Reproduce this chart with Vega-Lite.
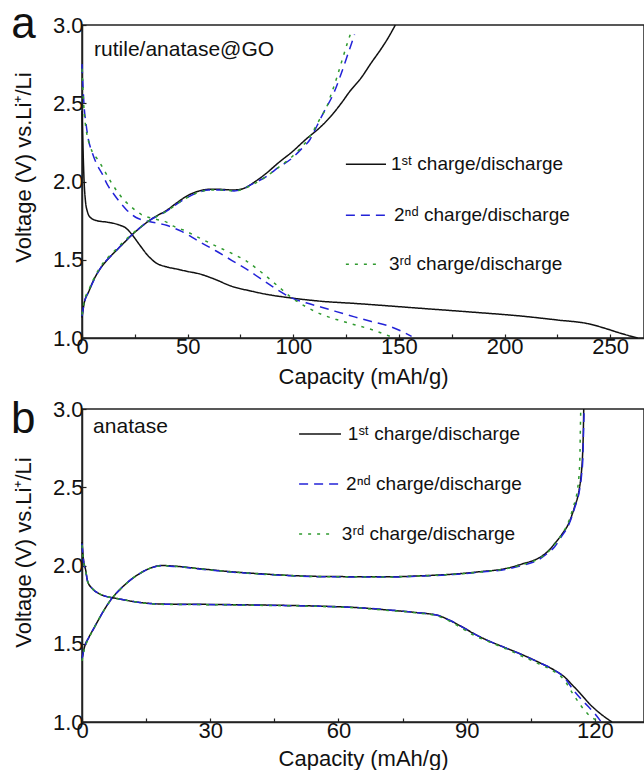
{
  "$schema": "https://vega.github.io/schema/vega-lite/v6.json",
  "background": "white",
  "padding": {"left": 10, "top": 2, "right": 0, "bottom": 0},
  "bounds": "flush",
  "spacing": 71,
  "config": {
    "font": "Liberation Sans",
    "view": {"stroke": "#222222", "strokeWidth": 1.5},
    "axis": {
      "domainColor": "#222222", "domainWidth": 1.5,
      "tickColor": "#222222", "tickWidth": 1.2, "tickSize": -4,
      "labelFontSize": 22, "labelColor": "#111111", "labelFont": "Liberation Sans",
      "titleFontSize": 22, "titleFontWeight": "normal", "titleColor": "#111111", "titleFont": "Liberation Sans",
      "grid": false, "labelFlush": false, "labelOverlap": false
    }
  },
  "datasets": {
    "curves": [
      {"p":"a","s":"1","b":"d","cap":0,"v":2.45},{"p":"a","s":"1","b":"d","cap":0.5,"v":2.2},{"p":"a","s":"1","b":"d","cap":1,"v":2.0},{"p":"a","s":"1","b":"d","cap":1.6,"v":1.88},{"p":"a","s":"1","b":"d","cap":2.5,"v":1.81},{"p":"a","s":"1","b":"d","cap":4,"v":1.77},{"p":"a","s":"1","b":"d","cap":7,"v":1.75},{"p":"a","s":"1","b":"d","cap":12,"v":1.74},{"p":"a","s":"1","b":"d","cap":17,"v":1.725},{"p":"a","s":"1","b":"d","cap":21,"v":1.70},{"p":"a","s":"1","b":"d","cap":24,"v":1.655},{"p":"a","s":"1","b":"d","cap":27,"v":1.60},{"p":"a","s":"1","b":"d","cap":31,"v":1.53},{"p":"a","s":"1","b":"d","cap":35,"v":1.48},{"p":"a","s":"1","b":"d","cap":40,"v":1.455},{"p":"a","s":"1","b":"d","cap":45,"v":1.44},{"p":"a","s":"1","b":"d","cap":50,"v":1.425},{"p":"a","s":"1","b":"d","cap":55.5,"v":1.41},{"p":"a","s":"1","b":"d","cap":62,"v":1.38},{"p":"a","s":"1","b":"d","cap":71,"v":1.33},{"p":"a","s":"1","b":"d","cap":80,"v":1.30},{"p":"a","s":"1","b":"d","cap":87,"v":1.28},{"p":"a","s":"1","b":"d","cap":99.5,"v":1.255},{"p":"a","s":"1","b":"d","cap":113,"v":1.235},{"p":"a","s":"1","b":"d","cap":130,"v":1.22},{"p":"a","s":"1","b":"d","cap":160,"v":1.19},{"p":"a","s":"1","b":"d","cap":185,"v":1.165},{"p":"a","s":"1","b":"d","cap":208,"v":1.14},{"p":"a","s":"1","b":"d","cap":225,"v":1.115},{"p":"a","s":"1","b":"d","cap":240,"v":1.09},{"p":"a","s":"1","b":"d","cap":248,"v":1.06},{"p":"a","s":"1","b":"d","cap":255,"v":1.03},{"p":"a","s":"1","b":"d","cap":263,"v":1.0},
      {"p":"a","s":"1","b":"c","cap":0,"v":1.13},{"p":"a","s":"1","b":"c","cap":1,"v":1.22},{"p":"a","s":"1","b":"c","cap":3.3,"v":1.30},{"p":"a","s":"1","b":"c","cap":5.5,"v":1.37},{"p":"a","s":"1","b":"c","cap":8,"v":1.43},{"p":"a","s":"1","b":"c","cap":12,"v":1.50},{"p":"a","s":"1","b":"c","cap":16,"v":1.556},{"p":"a","s":"1","b":"c","cap":20,"v":1.61},{"p":"a","s":"1","b":"c","cap":23.7,"v":1.66},{"p":"a","s":"1","b":"c","cap":28,"v":1.71},{"p":"a","s":"1","b":"c","cap":31.8,"v":1.75},{"p":"a","s":"1","b":"c","cap":36,"v":1.785},{"p":"a","s":"1","b":"c","cap":40,"v":1.815},{"p":"a","s":"1","b":"c","cap":44.5,"v":1.86},{"p":"a","s":"1","b":"c","cap":50,"v":1.91},{"p":"a","s":"1","b":"c","cap":55.5,"v":1.94},{"p":"a","s":"1","b":"c","cap":60,"v":1.95},{"p":"a","s":"1","b":"c","cap":65,"v":1.95},{"p":"a","s":"1","b":"c","cap":71,"v":1.946},{"p":"a","s":"1","b":"c","cap":75,"v":1.95},{"p":"a","s":"1","b":"c","cap":78,"v":1.965},{"p":"a","s":"1","b":"c","cap":82,"v":2.0},{"p":"a","s":"1","b":"c","cap":87,"v":2.05},{"p":"a","s":"1","b":"c","cap":93,"v":2.12},{"p":"a","s":"1","b":"c","cap":99.5,"v":2.19},{"p":"a","s":"1","b":"c","cap":106,"v":2.27},{"p":"a","s":"1","b":"c","cap":113,"v":2.35},{"p":"a","s":"1","b":"c","cap":118,"v":2.42},{"p":"a","s":"1","b":"c","cap":122.7,"v":2.50},{"p":"a","s":"1","b":"c","cap":127,"v":2.58},{"p":"a","s":"1","b":"c","cap":132,"v":2.66},{"p":"a","s":"1","b":"c","cap":137,"v":2.76},{"p":"a","s":"1","b":"c","cap":141.7,"v":2.85},{"p":"a","s":"1","b":"c","cap":145,"v":2.92},{"p":"a","s":"1","b":"c","cap":148.3,"v":3.0},
      {"p":"a","s":"2","b":"d","cap":0,"v":2.75},{"p":"a","s":"2","b":"d","cap":0.5,"v":2.6},{"p":"a","s":"2","b":"d","cap":1,"v":2.48},{"p":"a","s":"2","b":"d","cap":1.9,"v":2.37},{"p":"a","s":"2","b":"d","cap":3,"v":2.27},{"p":"a","s":"2","b":"d","cap":4.7,"v":2.19},{"p":"a","s":"2","b":"d","cap":7,"v":2.11},{"p":"a","s":"2","b":"d","cap":9.5,"v":2.05},{"p":"a","s":"2","b":"d","cap":12,"v":1.98},{"p":"a","s":"2","b":"d","cap":15,"v":1.92},{"p":"a","s":"2","b":"d","cap":17.5,"v":1.875},{"p":"a","s":"2","b":"d","cap":21,"v":1.82},{"p":"a","s":"2","b":"d","cap":25.6,"v":1.77},{"p":"a","s":"2","b":"d","cap":30,"v":1.75},{"p":"a","s":"2","b":"d","cap":35,"v":1.735},{"p":"a","s":"2","b":"d","cap":40,"v":1.72},{"p":"a","s":"2","b":"d","cap":44,"v":1.70},{"p":"a","s":"2","b":"d","cap":47.4,"v":1.68},{"p":"a","s":"2","b":"d","cap":55,"v":1.62},{"p":"a","s":"2","b":"d","cap":63.5,"v":1.556},{"p":"a","s":"2","b":"d","cap":71,"v":1.495},{"p":"a","s":"2","b":"d","cap":79,"v":1.43},{"p":"a","s":"2","b":"d","cap":90,"v":1.33},{"p":"a","s":"2","b":"d","cap":99.5,"v":1.255},{"p":"a","s":"2","b":"d","cap":106,"v":1.225},{"p":"a","s":"2","b":"d","cap":113,"v":1.198},{"p":"a","s":"2","b":"d","cap":120,"v":1.17},{"p":"a","s":"2","b":"d","cap":129,"v":1.135},{"p":"a","s":"2","b":"d","cap":137,"v":1.105},{"p":"a","s":"2","b":"d","cap":145,"v":1.077},{"p":"a","s":"2","b":"d","cap":151,"v":1.045},{"p":"a","s":"2","b":"d","cap":156,"v":1.01},
      {"p":"a","s":"2","b":"c","cap":0,"v":1.14},{"p":"a","s":"2","b":"c","cap":1,"v":1.22},{"p":"a","s":"2","b":"c","cap":3.3,"v":1.30},{"p":"a","s":"2","b":"c","cap":8,"v":1.43},{"p":"a","s":"2","b":"c","cap":16,"v":1.556},{"p":"a","s":"2","b":"c","cap":23.7,"v":1.66},{"p":"a","s":"2","b":"c","cap":31.8,"v":1.75},{"p":"a","s":"2","b":"c","cap":40,"v":1.81},{"p":"a","s":"2","b":"c","cap":47,"v":1.875},{"p":"a","s":"2","b":"c","cap":55,"v":1.93},{"p":"a","s":"2","b":"c","cap":60,"v":1.945},{"p":"a","s":"2","b":"c","cap":66,"v":1.945},{"p":"a","s":"2","b":"c","cap":72,"v":1.94},{"p":"a","s":"2","b":"c","cap":76,"v":1.95},{"p":"a","s":"2","b":"c","cap":80,"v":1.98},{"p":"a","s":"2","b":"c","cap":87,"v":2.03},{"p":"a","s":"2","b":"c","cap":93,"v":2.09},{"p":"a","s":"2","b":"c","cap":99.5,"v":2.15},{"p":"a","s":"2","b":"c","cap":104,"v":2.21},{"p":"a","s":"2","b":"c","cap":108,"v":2.27},{"p":"a","s":"2","b":"c","cap":111,"v":2.35},{"p":"a","s":"2","b":"c","cap":114.7,"v":2.45},{"p":"a","s":"2","b":"c","cap":119,"v":2.56},{"p":"a","s":"2","b":"c","cap":122.7,"v":2.69},{"p":"a","s":"2","b":"c","cap":126,"v":2.82},{"p":"a","s":"2","b":"c","cap":129,"v":2.94},
      {"p":"a","s":"3","b":"d","cap":0,"v":2.72},{"p":"a","s":"3","b":"d","cap":1,"v":2.45},{"p":"a","s":"3","b":"d","cap":2,"v":2.33},{"p":"a","s":"3","b":"d","cap":4,"v":2.22},{"p":"a","s":"3","b":"d","cap":8,"v":2.13},{"p":"a","s":"3","b":"d","cap":11,"v":2.06},{"p":"a","s":"3","b":"d","cap":14,"v":1.99},{"p":"a","s":"3","b":"d","cap":17,"v":1.93},{"p":"a","s":"3","b":"d","cap":20,"v":1.88},{"p":"a","s":"3","b":"d","cap":24,"v":1.83},{"p":"a","s":"3","b":"d","cap":28,"v":1.79},{"p":"a","s":"3","b":"d","cap":33,"v":1.765},{"p":"a","s":"3","b":"d","cap":40,"v":1.74},{"p":"a","s":"3","b":"d","cap":43,"v":1.716},{"p":"a","s":"3","b":"d","cap":48,"v":1.69},{"p":"a","s":"3","b":"d","cap":55.5,"v":1.64},{"p":"a","s":"3","b":"d","cap":63,"v":1.59},{"p":"a","s":"3","b":"d","cap":71,"v":1.54},{"p":"a","s":"3","b":"d","cap":78,"v":1.49},{"p":"a","s":"3","b":"d","cap":84,"v":1.43},{"p":"a","s":"3","b":"d","cap":92,"v":1.34},{"p":"a","s":"3","b":"d","cap":99.5,"v":1.255},{"p":"a","s":"3","b":"d","cap":106,"v":1.20},{"p":"a","s":"3","b":"d","cap":113,"v":1.153},{"p":"a","s":"3","b":"d","cap":120,"v":1.12},{"p":"a","s":"3","b":"d","cap":129,"v":1.085},{"p":"a","s":"3","b":"d","cap":138,"v":1.05},{"p":"a","s":"3","b":"d","cap":144,"v":1.02},{"p":"a","s":"3","b":"d","cap":148,"v":1.0},
      {"p":"a","s":"3","b":"c","cap":0,"v":1.15},{"p":"a","s":"3","b":"c","cap":1,"v":1.23},{"p":"a","s":"3","b":"c","cap":3.3,"v":1.31},{"p":"a","s":"3","b":"c","cap":8,"v":1.44},{"p":"a","s":"3","b":"c","cap":16,"v":1.565},{"p":"a","s":"3","b":"c","cap":23.7,"v":1.665},{"p":"a","s":"3","b":"c","cap":31.8,"v":1.75},{"p":"a","s":"3","b":"c","cap":40,"v":1.81},{"p":"a","s":"3","b":"c","cap":47,"v":1.875},{"p":"a","s":"3","b":"c","cap":55,"v":1.93},{"p":"a","s":"3","b":"c","cap":60,"v":1.945},{"p":"a","s":"3","b":"c","cap":66,"v":1.945},{"p":"a","s":"3","b":"c","cap":72,"v":1.94},{"p":"a","s":"3","b":"c","cap":76,"v":1.95},{"p":"a","s":"3","b":"c","cap":80,"v":1.975},{"p":"a","s":"3","b":"c","cap":87,"v":2.03},{"p":"a","s":"3","b":"c","cap":93,"v":2.09},{"p":"a","s":"3","b":"c","cap":99.5,"v":2.16},{"p":"a","s":"3","b":"c","cap":104,"v":2.22},{"p":"a","s":"3","b":"c","cap":108,"v":2.29},{"p":"a","s":"3","b":"c","cap":111,"v":2.36},{"p":"a","s":"3","b":"c","cap":113,"v":2.41},{"p":"a","s":"3","b":"c","cap":115.6,"v":2.47},{"p":"a","s":"3","b":"c","cap":118,"v":2.56},{"p":"a","s":"3","b":"c","cap":120.5,"v":2.66},{"p":"a","s":"3","b":"c","cap":123,"v":2.77},{"p":"a","s":"3","b":"c","cap":125.5,"v":2.88},{"p":"a","s":"3","b":"c","cap":127.5,"v":2.96},

      {"p":"b","s":"1","b":"d","cap":0,"v":2.15},{"p":"b","s":"1","b":"d","cap":0.3,"v":2.05},{"p":"b","s":"1","b":"d","cap":0.9,"v":1.965},{"p":"b","s":"1","b":"d","cap":1.3,"v":1.90},{"p":"b","s":"1","b":"d","cap":2.5,"v":1.85},{"p":"b","s":"1","b":"d","cap":4,"v":1.82},{"p":"b","s":"1","b":"d","cap":6,"v":1.80},{"p":"b","s":"1","b":"d","cap":8,"v":1.79},{"p":"b","s":"1","b":"d","cap":12,"v":1.77},{"p":"b","s":"1","b":"d","cap":15.7,"v":1.758},{"p":"b","s":"1","b":"d","cap":20,"v":1.753},{"p":"b","s":"1","b":"d","cap":27.4,"v":1.752},{"p":"b","s":"1","b":"d","cap":40,"v":1.748},{"p":"b","s":"1","b":"d","cap":56,"v":1.74},{"p":"b","s":"1","b":"d","cap":65,"v":1.73},{"p":"b","s":"1","b":"d","cap":71.7,"v":1.715},{"p":"b","s":"1","b":"d","cap":78,"v":1.70},{"p":"b","s":"1","b":"d","cap":83.4,"v":1.68},{"p":"b","s":"1","b":"d","cap":86,"v":1.65},{"p":"b","s":"1","b":"d","cap":88.8,"v":1.61},{"p":"b","s":"1","b":"d","cap":92,"v":1.56},{"p":"b","s":"1","b":"d","cap":95,"v":1.52},{"p":"b","s":"1","b":"d","cap":99,"v":1.475},{"p":"b","s":"1","b":"d","cap":103,"v":1.43},{"p":"b","s":"1","b":"d","cap":107,"v":1.38},{"p":"b","s":"1","b":"d","cap":110.6,"v":1.33},{"p":"b","s":"1","b":"d","cap":112.8,"v":1.29},{"p":"b","s":"1","b":"d","cap":114.6,"v":1.24},{"p":"b","s":"1","b":"d","cap":116.5,"v":1.185},{"p":"b","s":"1","b":"d","cap":118.6,"v":1.12},{"p":"b","s":"1","b":"d","cap":121,"v":1.06},{"p":"b","s":"1","b":"d","cap":124,"v":1.0},
      {"p":"b","s":"1","b":"c","cap":0,"v":1.40},{"p":"b","s":"1","b":"c","cap":0.5,"v":1.47},{"p":"b","s":"1","b":"c","cap":1.6,"v":1.54},{"p":"b","s":"1","b":"c","cap":2.8,"v":1.60},{"p":"b","s":"1","b":"c","cap":4,"v":1.66},{"p":"b","s":"1","b":"c","cap":5.5,"v":1.73},{"p":"b","s":"1","b":"c","cap":7,"v":1.79},{"p":"b","s":"1","b":"c","cap":9,"v":1.85},{"p":"b","s":"1","b":"c","cap":11,"v":1.90},{"p":"b","s":"1","b":"c","cap":13,"v":1.94},{"p":"b","s":"1","b":"c","cap":15.7,"v":1.98},{"p":"b","s":"1","b":"c","cap":18.8,"v":2.0},{"p":"b","s":"1","b":"c","cap":22,"v":1.995},{"p":"b","s":"1","b":"c","cap":27.4,"v":1.98},{"p":"b","s":"1","b":"c","cap":35,"v":1.96},{"p":"b","s":"1","b":"c","cap":43,"v":1.945},{"p":"b","s":"1","b":"c","cap":56,"v":1.93},{"p":"b","s":"1","b":"c","cap":71.7,"v":1.928},{"p":"b","s":"1","b":"c","cap":80,"v":1.935},{"p":"b","s":"1","b":"c","cap":87,"v":1.945},{"p":"b","s":"1","b":"c","cap":93,"v":1.96},{"p":"b","s":"1","b":"c","cap":99,"v":1.98},{"p":"b","s":"1","b":"c","cap":103,"v":2.01},{"p":"b","s":"1","b":"c","cap":107,"v":2.05},{"p":"b","s":"1","b":"c","cap":109,"v":2.09},{"p":"b","s":"1","b":"c","cap":110.6,"v":2.14},{"p":"b","s":"1","b":"c","cap":112.3,"v":2.20},{"p":"b","s":"1","b":"c","cap":113.9,"v":2.27},{"p":"b","s":"1","b":"c","cap":115.2,"v":2.37},{"p":"b","s":"1","b":"c","cap":116.3,"v":2.48},{"p":"b","s":"1","b":"c","cap":116.8,"v":2.58},{"p":"b","s":"1","b":"c","cap":117.1,"v":2.69},{"p":"b","s":"1","b":"c","cap":117.3,"v":2.85},{"p":"b","s":"1","b":"c","cap":117.4,"v":3.0},
      {"p":"b","s":"2","b":"d","cap":0,"v":2.14},{"p":"b","s":"2","b":"d","cap":0.3,"v":2.04},{"p":"b","s":"2","b":"d","cap":0.9,"v":1.96},{"p":"b","s":"2","b":"d","cap":1.3,"v":1.90},{"p":"b","s":"2","b":"d","cap":2.5,"v":1.85},{"p":"b","s":"2","b":"d","cap":4,"v":1.82},{"p":"b","s":"2","b":"d","cap":6,"v":1.80},{"p":"b","s":"2","b":"d","cap":8,"v":1.79},{"p":"b","s":"2","b":"d","cap":12,"v":1.77},{"p":"b","s":"2","b":"d","cap":15.7,"v":1.757},{"p":"b","s":"2","b":"d","cap":20,"v":1.752},{"p":"b","s":"2","b":"d","cap":27.4,"v":1.751},{"p":"b","s":"2","b":"d","cap":40,"v":1.747},{"p":"b","s":"2","b":"d","cap":56,"v":1.739},{"p":"b","s":"2","b":"d","cap":65,"v":1.73},{"p":"b","s":"2","b":"d","cap":71.7,"v":1.716},{"p":"b","s":"2","b":"d","cap":78,"v":1.70},{"p":"b","s":"2","b":"d","cap":83.4,"v":1.68},{"p":"b","s":"2","b":"d","cap":86,"v":1.65},{"p":"b","s":"2","b":"d","cap":88.8,"v":1.61},{"p":"b","s":"2","b":"d","cap":92,"v":1.56},{"p":"b","s":"2","b":"d","cap":95,"v":1.52},{"p":"b","s":"2","b":"d","cap":99,"v":1.475},{"p":"b","s":"2","b":"d","cap":103,"v":1.43},{"p":"b","s":"2","b":"d","cap":107,"v":1.38},{"p":"b","s":"2","b":"d","cap":110.6,"v":1.33},{"p":"b","s":"2","b":"d","cap":112.8,"v":1.285},{"p":"b","s":"2","b":"d","cap":115.1,"v":1.20},{"p":"b","s":"2","b":"d","cap":118.4,"v":1.10},{"p":"b","s":"2","b":"d","cap":119.8,"v":1.06},{"p":"b","s":"2","b":"d","cap":121.5,"v":1.0},
      {"p":"b","s":"2","b":"c","cap":0,"v":1.40},{"p":"b","s":"2","b":"c","cap":0.5,"v":1.47},{"p":"b","s":"2","b":"c","cap":1.6,"v":1.54},{"p":"b","s":"2","b":"c","cap":2.8,"v":1.60},{"p":"b","s":"2","b":"c","cap":4,"v":1.66},{"p":"b","s":"2","b":"c","cap":5.5,"v":1.73},{"p":"b","s":"2","b":"c","cap":7,"v":1.79},{"p":"b","s":"2","b":"c","cap":9,"v":1.85},{"p":"b","s":"2","b":"c","cap":11,"v":1.90},{"p":"b","s":"2","b":"c","cap":13,"v":1.94},{"p":"b","s":"2","b":"c","cap":15.7,"v":1.98},{"p":"b","s":"2","b":"c","cap":18.8,"v":1.998},{"p":"b","s":"2","b":"c","cap":22,"v":1.993},{"p":"b","s":"2","b":"c","cap":27.4,"v":1.978},{"p":"b","s":"2","b":"c","cap":35,"v":1.958},{"p":"b","s":"2","b":"c","cap":43,"v":1.943},{"p":"b","s":"2","b":"c","cap":56,"v":1.928},{"p":"b","s":"2","b":"c","cap":71.7,"v":1.926},{"p":"b","s":"2","b":"c","cap":80,"v":1.933},{"p":"b","s":"2","b":"c","cap":87,"v":1.943},{"p":"b","s":"2","b":"c","cap":93,"v":1.957},{"p":"b","s":"2","b":"c","cap":99,"v":1.975},{"p":"b","s":"2","b":"c","cap":103,"v":2.0},{"p":"b","s":"2","b":"c","cap":107,"v":2.04},{"p":"b","s":"2","b":"c","cap":109,"v":2.08},{"p":"b","s":"2","b":"c","cap":110.6,"v":2.12},{"p":"b","s":"2","b":"c","cap":112.3,"v":2.19},{"p":"b","s":"2","b":"c","cap":113.9,"v":2.26},{"p":"b","s":"2","b":"c","cap":115.3,"v":2.37},{"p":"b","s":"2","b":"c","cap":116.4,"v":2.48},{"p":"b","s":"2","b":"c","cap":116.9,"v":2.58},{"p":"b","s":"2","b":"c","cap":117.2,"v":2.69},{"p":"b","s":"2","b":"c","cap":117.35,"v":2.85},{"p":"b","s":"2","b":"c","cap":117.5,"v":3.0},
      {"p":"b","s":"3","b":"d","cap":0,"v":2.13},{"p":"b","s":"3","b":"d","cap":0.3,"v":2.04},{"p":"b","s":"3","b":"d","cap":0.9,"v":1.96},{"p":"b","s":"3","b":"d","cap":1.3,"v":1.90},{"p":"b","s":"3","b":"d","cap":2.5,"v":1.85},{"p":"b","s":"3","b":"d","cap":4,"v":1.82},{"p":"b","s":"3","b":"d","cap":6,"v":1.80},{"p":"b","s":"3","b":"d","cap":8,"v":1.79},{"p":"b","s":"3","b":"d","cap":12,"v":1.77},{"p":"b","s":"3","b":"d","cap":15.7,"v":1.756},{"p":"b","s":"3","b":"d","cap":20,"v":1.751},{"p":"b","s":"3","b":"d","cap":27.4,"v":1.75},{"p":"b","s":"3","b":"d","cap":40,"v":1.746},{"p":"b","s":"3","b":"d","cap":56,"v":1.738},{"p":"b","s":"3","b":"d","cap":65,"v":1.728},{"p":"b","s":"3","b":"d","cap":71.7,"v":1.713},{"p":"b","s":"3","b":"d","cap":78,"v":1.698},{"p":"b","s":"3","b":"d","cap":83.4,"v":1.675},{"p":"b","s":"3","b":"d","cap":86,"v":1.645},{"p":"b","s":"3","b":"d","cap":88.8,"v":1.60},{"p":"b","s":"3","b":"d","cap":92,"v":1.55},{"p":"b","s":"3","b":"d","cap":95,"v":1.515},{"p":"b","s":"3","b":"d","cap":99,"v":1.47},{"p":"b","s":"3","b":"d","cap":103,"v":1.42},{"p":"b","s":"3","b":"d","cap":107,"v":1.37},{"p":"b","s":"3","b":"d","cap":110.6,"v":1.32},{"p":"b","s":"3","b":"d","cap":112.8,"v":1.27},{"p":"b","s":"3","b":"d","cap":115.1,"v":1.17},{"p":"b","s":"3","b":"d","cap":118.4,"v":1.05},{"p":"b","s":"3","b":"d","cap":121,"v":1.0},
      {"p":"b","s":"3","b":"c","cap":0,"v":1.39},{"p":"b","s":"3","b":"c","cap":0.5,"v":1.46},{"p":"b","s":"3","b":"c","cap":1.6,"v":1.535},{"p":"b","s":"3","b":"c","cap":2.8,"v":1.60},{"p":"b","s":"3","b":"c","cap":4,"v":1.66},{"p":"b","s":"3","b":"c","cap":5.5,"v":1.73},{"p":"b","s":"3","b":"c","cap":7,"v":1.79},{"p":"b","s":"3","b":"c","cap":9,"v":1.85},{"p":"b","s":"3","b":"c","cap":11,"v":1.90},{"p":"b","s":"3","b":"c","cap":13,"v":1.94},{"p":"b","s":"3","b":"c","cap":15.7,"v":1.98},{"p":"b","s":"3","b":"c","cap":18.8,"v":1.998},{"p":"b","s":"3","b":"c","cap":22,"v":1.994},{"p":"b","s":"3","b":"c","cap":27.4,"v":1.979},{"p":"b","s":"3","b":"c","cap":35,"v":1.959},{"p":"b","s":"3","b":"c","cap":43,"v":1.944},{"p":"b","s":"3","b":"c","cap":56,"v":1.929},{"p":"b","s":"3","b":"c","cap":71.7,"v":1.927},{"p":"b","s":"3","b":"c","cap":80,"v":1.934},{"p":"b","s":"3","b":"c","cap":87,"v":1.944},{"p":"b","s":"3","b":"c","cap":93,"v":1.958},{"p":"b","s":"3","b":"c","cap":99,"v":1.978},{"p":"b","s":"3","b":"c","cap":103,"v":2.005},{"p":"b","s":"3","b":"c","cap":107,"v":2.045},{"p":"b","s":"3","b":"c","cap":109,"v":2.085},{"p":"b","s":"3","b":"c","cap":110.6,"v":2.135},{"p":"b","s":"3","b":"c","cap":112.3,"v":2.20},{"p":"b","s":"3","b":"c","cap":113.7,"v":2.27},{"p":"b","s":"3","b":"c","cap":114.9,"v":2.37},{"p":"b","s":"3","b":"c","cap":115.9,"v":2.48},{"p":"b","s":"3","b":"c","cap":116.3,"v":2.58},{"p":"b","s":"3","b":"c","cap":116.5,"v":2.69},{"p":"b","s":"3","b":"c","cap":116.6,"v":2.85},{"p":"b","s":"3","b":"c","cap":116.7,"v":3.0}
    ],
    "legend": [
      {"p":"a","s":"1","cap":124.9,"cap2":143.9,"v":2.11,"tx":146.2,"label":"1ˢᵗ charge/discharge"},
      {"p":"a","s":"2","cap":124.9,"cap2":144.8,"v":1.785,"tx":147.7,"label":"2ⁿᵈ charge/discharge"},
      {"p":"a","s":"3","cap":124.9,"cap2":140.6,"v":1.472,"tx":145.3,"label":"3ʳᵈ charge/discharge"},
      {"p":"b","s":"1","cap":50.8,"cap2":60.6,"v":2.84,"tx":62.2,"label":"1ˢᵗ charge/discharge"},
      {"p":"b","s":"2","cap":50.8,"cap2":60.1,"v":2.521,"tx":61.8,"label":"2ⁿᵈ charge/discharge"},
      {"p":"b","s":"3","cap":50.8,"cap2":58.7,"v":2.201,"tx":60.8,"label":"3ʳᵈ charge/discharge"}
    ],
    "notes": [
      {"p":"a","cap":5.7,"v":2.84,"label":"rutile/anatase@GO"},
      {"p":"b","cap":2.6,"v":2.885,"label":"anatase"}
    ],
    "tags": [
      {"p":"a","cap":-33.5,"v":2.917,"label":"a"},
      {"p":"b","cap":-16.6,"v":2.847,"label":"b"}
    ]
  },
  "vconcat": [
    {
      "width": 562, "height": 313,
      "layer": [
        {
          "data": {"name": "curves"},
          "transform": [{"filter": "datum.p == 'a'"}],
          "mark": {"type": "line", "strokeWidth": 1.5, "interpolate": "monotone"},
          "encoding": {
            "x": {"field": "cap", "type": "quantitative", "title": "Capacity (mAh/g)",
                  "scale": {"domain": [0, 266], "nice": false, "zero": false},
                  "axis": {"values": [0,25,50,75,100,125,150,175,200,225,250], "labelExpr": "datum.value % 50 == 0 ? datum.label : ''", "labelPadding": 2, "titlePadding": 9}},
            "y": {"field": "v", "type": "quantitative", "title": "Voltage (V) vs.Li⁺/Li",
                  "scale": {"domain": [1, 3], "nice": false, "zero": false},
                  "axis": {"values": [1,1.25,1.5,1.75,2,2.25,2.5,2.75,3], "labelExpr": "(datum.value * 2) % 1 == 0 ? format(datum.value, '.1f') : ''", "labelPadding": 3, "titlePadding": 17, "titleY": 142}},
            "color": {"field": "s", "type": "nominal", "legend": null, "scale": {"domain": ["1","2","3"], "range": ["#111111","#2323d8","#2f9a2f"]}},
            "strokeDash": {"field": "s", "type": "nominal", "legend": null, "scale": {"domain": ["1","2","3"], "range": [[1,0],[9,6],[3,6]]}},
            "detail": {"field": "b", "type": "nominal"}
          }
        },
        {
          "data": {"name": "legend"},
          "transform": [{"filter": "datum.p == 'a'"}],
          "mark": {"type": "rule", "strokeWidth": 1.5},
          "encoding": {
            "x": {"field": "cap", "type": "quantitative", "title": "Capacity (mAh/g)"},
            "x2": {"field": "cap2"},
            "y": {"field": "v", "type": "quantitative", "title": "Voltage (V) vs.Li⁺/Li"},
            "color": {"field": "s", "type": "nominal", "legend": null},
            "strokeDash": {"field": "s", "type": "nominal", "legend": null}
          }
        },
        {
          "data": {"name": "legend"},
          "transform": [{"filter": "datum.p == 'a'"}],
          "mark": {"type": "text", "align": "left", "baseline": "middle", "fontSize": 19, "color": "#111111", "font": "Liberation Sans"},
          "encoding": {
            "x": {"field": "tx", "type": "quantitative", "title": "Capacity (mAh/g)"},
            "y": {"field": "v", "type": "quantitative", "title": "Voltage (V) vs.Li⁺/Li"},
            "text": {"field": "label"}
          }
        },
        {
          "data": {"name": "notes"},
          "transform": [{"filter": "datum.p == 'a'"}],
          "mark": {"type": "text", "align": "left", "baseline": "middle", "fontSize": 21, "color": "#111111", "font": "Liberation Sans"},
          "encoding": {
            "x": {"field": "cap", "type": "quantitative", "title": "Capacity (mAh/g)"},
            "y": {"field": "v", "type": "quantitative", "title": "Voltage (V) vs.Li⁺/Li"},
            "text": {"field": "label"}
          }
        },
        {
          "data": {"name": "tags"},
          "transform": [{"filter": "datum.p == 'a'"}],
          "mark": {"type": "text", "align": "left", "baseline": "alphabetic", "fontSize": 44, "color": "#111111", "font": "Liberation Sans"},
          "encoding": {
            "x": {"field": "cap", "type": "quantitative", "title": "Capacity (mAh/g)"},
            "y": {"field": "v", "type": "quantitative", "title": "Voltage (V) vs.Li⁺/Li"},
            "text": {"field": "label"}
          }
        }
      ]
    },
    {
      "width": 562, "height": 313,
      "layer": [
        {
          "data": {"name": "curves"},
          "transform": [{"filter": "datum.p == 'b'"}],
          "mark": {"type": "line", "strokeWidth": 1.5, "interpolate": "monotone"},
          "encoding": {
            "x": {"field": "cap", "type": "quantitative", "title": "Capacity (mAh/g)",
                  "scale": {"domain": [0, 131.5], "nice": false, "zero": false},
                  "axis": {"values": [0,15,30,45,60,75,90,105,120], "labelExpr": "datum.value % 30 == 0 ? datum.label : ''", "labelPadding": 2, "titlePadding": 7}},
            "y": {"field": "v", "type": "quantitative", "title": "Voltage (V) vs.Li⁺/Li",
                  "scale": {"domain": [1, 3], "nice": false, "zero": false},
                  "axis": {"values": [1,1.25,1.5,1.75,2,2.25,2.5,2.75,3], "labelExpr": "(datum.value * 2) % 1 == 0 ? format(datum.value, '.1f') : ''", "labelPadding": 3, "titlePadding": 17, "titleY": 143}},
            "color": {"field": "s", "type": "nominal", "legend": null, "scale": {"domain": ["1","2","3"], "range": ["#111111","#2323d8","#2f9a2f"]}},
            "strokeDash": {"field": "s", "type": "nominal", "legend": null, "scale": {"domain": ["1","2","3"], "range": [[1,0],[9,6],[3,6]]}},
            "detail": {"field": "b", "type": "nominal"}
          }
        },
        {
          "data": {"name": "legend"},
          "transform": [{"filter": "datum.p == 'b'"}],
          "mark": {"type": "rule", "strokeWidth": 1.5},
          "encoding": {
            "x": {"field": "cap", "type": "quantitative", "title": "Capacity (mAh/g)"},
            "x2": {"field": "cap2"},
            "y": {"field": "v", "type": "quantitative", "title": "Voltage (V) vs.Li⁺/Li"},
            "color": {"field": "s", "type": "nominal", "legend": null},
            "strokeDash": {"field": "s", "type": "nominal", "legend": null}
          }
        },
        {
          "data": {"name": "legend"},
          "transform": [{"filter": "datum.p == 'b'"}],
          "mark": {"type": "text", "align": "left", "baseline": "middle", "fontSize": 19, "color": "#111111", "font": "Liberation Sans"},
          "encoding": {
            "x": {"field": "tx", "type": "quantitative", "title": "Capacity (mAh/g)"},
            "y": {"field": "v", "type": "quantitative", "title": "Voltage (V) vs.Li⁺/Li"},
            "text": {"field": "label"}
          }
        },
        {
          "data": {"name": "notes"},
          "transform": [{"filter": "datum.p == 'b'"}],
          "mark": {"type": "text", "align": "left", "baseline": "middle", "fontSize": 21, "color": "#111111", "font": "Liberation Sans"},
          "encoding": {
            "x": {"field": "cap", "type": "quantitative", "title": "Capacity (mAh/g)"},
            "y": {"field": "v", "type": "quantitative", "title": "Voltage (V) vs.Li⁺/Li"},
            "text": {"field": "label"}
          }
        },
        {
          "data": {"name": "tags"},
          "transform": [{"filter": "datum.p == 'b'"}],
          "mark": {"type": "text", "align": "left", "baseline": "alphabetic", "fontSize": 44, "color": "#111111", "font": "Liberation Sans"},
          "encoding": {
            "x": {"field": "cap", "type": "quantitative", "title": "Capacity (mAh/g)"},
            "y": {"field": "v", "type": "quantitative", "title": "Voltage (V) vs.Li⁺/Li"},
            "text": {"field": "label"}
          }
        }
      ]
    }
  ]
}
